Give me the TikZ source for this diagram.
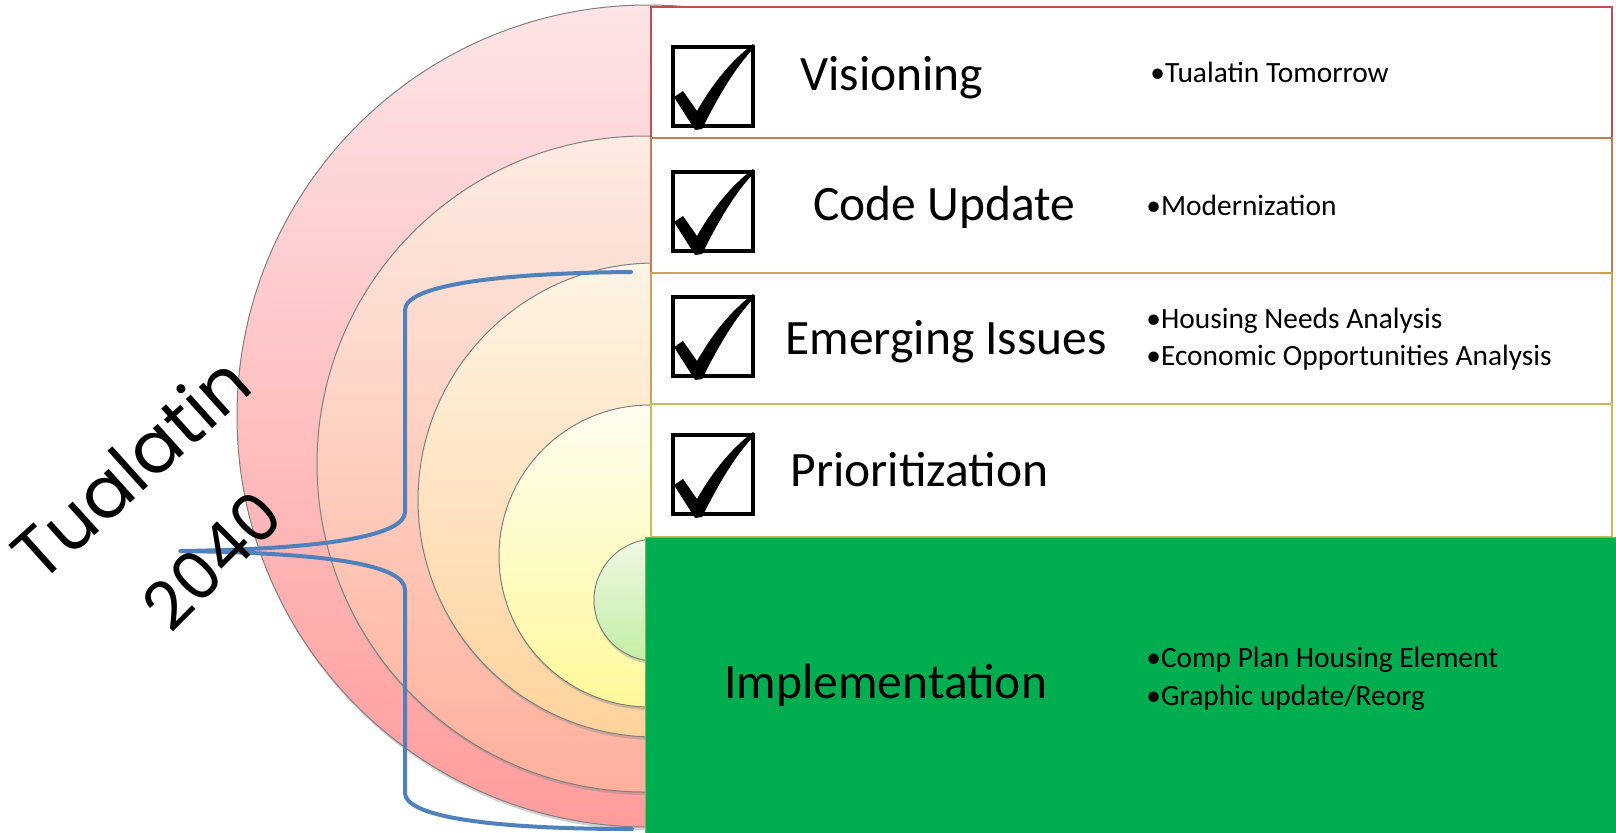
\documentclass[tikz,border=0pt]{standalone}
\usepackage{fontspec}
\setmainfont{Carlito}
\newfontfamily\handfont{Poppins}
\usetikzlibrary{shadows}
\definecolor{cAt}{HTML}{FDE4E6}\definecolor{cAb}{HTML}{FF9C9C}
\definecolor{cBt}{HTML}{FDEBE2}\definecolor{cBb}{HTML}{FFB09C}
\definecolor{cCt}{HTML}{FDF4E4}\definecolor{cCb}{HTML}{FFD29C}
\definecolor{cDt}{HTML}{FEFDF0}\definecolor{cDb}{HTML}{FFF99A}
\definecolor{cEt}{HTML}{EEF8E4}\definecolor{cEb}{HTML}{C4EEA4}
\definecolor{bA}{HTML}{C0504D}\definecolor{bB}{HTML}{C87A50}
\definecolor{bC}{HTML}{C9A455}\definecolor{bD}{HTML}{C4BE5E}
\definecolor{implgreen}{HTML}{00AE50}
\definecolor{bracketblue}{HTML}{4F81BD}
\tikzset{
  ring/.style={draw=black!50, line width=0.5pt,
    drop shadow={shadow xshift=0.4pt, shadow yshift=-1.5pt, opacity=0.35}},
  rowbox/.style={draw=#1, line width=1pt, fill=white, anchor=north west,
    minimum width=480.5pt, inner sep=0, outer sep=0},
  bigtext/.style={font=\fontsize{24.75}{28}\selectfont, inner sep=0, anchor=base west},
  smalltext/.style={font=\fontsize{14.7}{18}\selectfont, inner sep=0, anchor=base west},
  hand/.style={font=\handfont\fontsize{#1}{#1}\selectfont, inner sep=0},
  brace/.style={draw=bracketblue, line width=2pt, line cap=round, line join=round},
  chk/.pic={
    \draw[line width=2pt] (0,0) rectangle (80,79);
    \fill (1,50) -- (10,44) -- (24,64) .. controls (40,36) and (58,14) .. (80,-3)
      -- (82,0) .. controls (62,20) and (44,52) .. (29,82) -- (22,83) -- cycle;
  }
}
\begin{document}
\begin{tikzpicture}[x=0.5pt,y=-0.5pt]
\useasboundingbox (0,0) rectangle (1616,832);
\fill[white] (0,0) rectangle (1616,832);
% nested circles
\path[ring, top color=cAt, bottom color=cAb] (648,416) circle[radius=411];
\path[ring, top color=cBt, bottom color=cBb] (645,464) circle[radius=328];
\path[ring, top color=cCt, bottom color=cCb] (655,500) circle[radius=237];
\path[ring, top color=cDt, bottom color=cDb] (650,556) circle[radius=151];
\path[ring, top color=cEt, bottom color=cEb] (655,600) circle[radius=61];
% rows
\node[rowbox=bA, minimum height=65.5pt] (r1) at (651,7) {};
\node[rowbox=bB, minimum height=67.5pt] (r2) at (651,138) {};
\node[rowbox=bC, minimum height=65.5pt] (r3) at (651,273) {};
\node[rowbox=bD, minimum height=66.5pt] (r4) at (651,404) {};
\node[fill=implgreen, draw=bD!60!implgreen, line width=0.5pt, anchor=north west,
  minimum width=486pt, minimum height=150pt, inner sep=0, outer sep=0] (r5) at (645,537) {};
% checkboxes
\pic at (673,47) {chk};
\pic at (673,172) {chk};
\pic at (673,297) {chk};
\pic at (673,435) {chk};
% labels
\node[bigtext] (lv) at (800,90) {Visioning};
\node[bigtext] (lc) at (813,220) {Code Update};
\node[bigtext] (le) at (785,354) {Emerging Issues};
\node[bigtext] (lp) at (790,486) {Prioritization};
\node[bigtext] (li) at (724,698) {Implementation};
\node[smalltext] (s1) at (1150,82) {•Tualatin Tomorrow};
\node[smalltext] (s2) at (1146,215) {•Modernization};
\node[smalltext] (s3) at (1146,328) {•Housing Needs Analysis};
\node[smalltext] (s4) at (1146,365) {•Economic Opportunities Analysis};
\node[smalltext] (s5) at (1146,667) {•Comp Plan Housing Element};
\node[smalltext] (s6) at (1146,705) {•Graphic update/Reorg};
% bracket
\coordinate (tip) at (180,551);
\coordinate (btop) at (631,272);
\coordinate (bbot) at (632,829);
\draw[brace] (btop) .. controls (500,273) and (405,285) .. (405,310)
  -- (405,512) .. controls (405,535) and (330,549) .. (tip)
  .. controls (330,553) and (405,565) .. (405,590)
  -- (405,793) .. controls (405,815) and (480,829) .. (bbot);
% handwritten title
\node[hand=36, rotate=42] (t1) at (130,467) {Tualatin};
\node[hand=33, rotate=45] (t2) at (212,560) {2040};
\end{tikzpicture}
\end{document}
